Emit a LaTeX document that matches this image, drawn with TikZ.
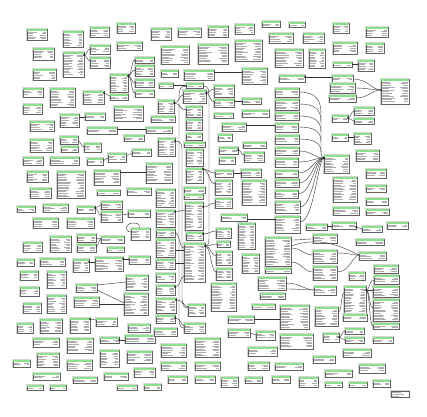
\documentclass[tikz,border=0pt]{standalone}
\definecolor{hdr}{RGB}{140,224,140}
\tikzset{
 tbl/.style={draw=black!62,line width=0.6pt,fill=white,inner sep=0pt,outer sep=0pt,rectangle},
 tshadow/.style={fill=black!16},
 thdr/.style={fill=hdr},
 trow/.style={draw=black!32,line width=0.5pt},
 conn/.style={draw=black!80,line width=0.4pt},
 dotc/.style={fill=black},
}
\newcommand\T[5]{%
 \fill[tshadow] (#2-0.7,#3-0.7) rectangle (#4+1.0,#5+1.0);
 \node[tbl,minimum width={(#4-#2)*1pt},minimum height={(#5-#3)*1pt}] (#1) at ({(#2+#4)/2},{(#3+#5)/2}) {};
 \fill[thdr] (#2+0.35,#3+0.35) rectangle (#4-0.35,#3+1.8);
 \pgfmathtruncatemacro\nr{max(0,(#5-#3-4.2)/1.6)}%
 \foreach \i in {0,...,\nr}{%
   \pgfmathsetmacro\yy{#3+3.1+1.6*\i}%
   \pgfmathsetmacro\la{(#4-#2)*(0.22+0.25*rnd)}%
   \pgfmathsetmacro\lb{(#4-#2)*(0.12+0.18*rnd)}%
   \draw[trow] (#2+1,\yy) -- ++(\la,0);
   \draw[trow] (#4-1,\yy) -- ++(-\lb,0);
 }%
}
\begin{document}
\begin{tikzpicture}[x=1pt,y=-1pt]
\pgfmathsetseed{7}
\fill[white] (0,0) rectangle (427,416);
\useasboundingbox (0,0) rectangle (427,416);
% ---- left region
\T{t1}{27}{29}{47}{40}
\T{t2}{63}{31}{83}{47}
\T{t3}{90}{27}{109}{37}
\T{t4}{117}{23}{135}{33}
\T{t5}{33}{48}{54}{60}
\T{t6}{63}{52}{84}{77}
\T{t7}{90}{45}{110}{54}
\T{t8}{117}{42}{142}{50}
\T{t9}{90}{57}{110}{68}
\T{t10}{33}{69}{56}{80}
\T{t11}{110}{74}{128}{92}
\T{t12}{135}{57}{154}{63}
\T{t13}{135}{65}{154}{76}
\T{t14}{135}{79}{154}{87}
\T{t15}{135}{90}{154}{97}
\T{t16}{23}{88}{43}{97}
\T{t17}{50}{88}{75}{107}
\T{t18}{83}{91}{104}{104}
\T{t19}{110}{94}{128}{100}
\T{t20}{23}{104}{42}{114}
\T{t21}{114}{106}{143}{121}
\T{t22}{60}{114}{79}{127}
\T{t23}{85}{113}{105}{120}
\T{t24}{30}{121}{54}{131}
\T{t25}{87}{127}{117}{134}
\T{t26}{30}{139}{53}{152}
\T{t27}{60}{136}{78}{144}
\T{t28}{61}{146}{78}{152}
\T{t29}{84}{143}{101}{152}
\T{t30}{124}{135}{144}{141}
\T{t31}{108}{153}{126}{162}
\T{t32}{132}{149}{151}{156}
\T{t33}{23}{157}{43}{165}
\T{t34}{50}{157}{79}{165}
\T{t35}{87}{158}{103}{165}
\T{t36}{27}{171}{48}{182}
\T{t37}{57}{171}{85}{198}
\T{t38}{94}{170}{120}{185}
\T{t39}{30}{188}{51}{198}
\T{t40}{97}{190}{120}{195}
\T{t41}{127}{188}{151}{195}
\T{t42}{17}{206}{35}{212}
\T{t43}{43}{204}{68}{212}
\T{t44}{77}{206}{95}{213}
\T{t45}{101}{201}{122}{209}
\T{t46}{101}{211}{122}{222}
\T{t47}{128}{210}{150}{217}
\T{t48}{33}{218}{58}{228}
\T{t49}{67}{218}{94}{228}
\T{t50}{131}{228}{150}{240}
\T{t51}{23}{242}{42}{252}
\T{t52}{50}{236}{71}{252}
\T{t53}{77}{234}{96}{242}
\T{t54}{77}{244}{96}{252}
\T{t55}{101}{236}{124}{243}
\T{t56}{107}{247}{124}{252}
\T{t57}{17}{259}{34}{266}
\T{t58}{40}{258}{65}{266}
\T{t59}{73}{259}{89}{272}
\T{t60}{95}{257}{123}{271}
\T{t61}{129}{256}{150}{264}
\T{t62}{20}{271}{38}{280}
\T{t63}{47}{271}{66}{288}
\T{t64}{126}{275}{148}{290}
\T{t65}{76}{284}{97}{292}
\T{t66}{20}{287}{39}{296}
\T{t67}{74}{297}{99}{307}
\T{t68}{124}{293}{148}{315}
\T{t69}{23}{303}{41}{313}
\T{t70}{47}{295}{66}{313}
\T{t71}{17}{323}{33}{333}
\T{t72}{40}{319}{62}{333}
\T{t73}{70}{318}{90}{333}
\T{t74}{96}{318}{117}{326}
\T{t75}{128}{324}{150}{332}
\T{t76}{33}{338}{59}{347}
\T{t77}{67}{338}{93}{353}
\T{t78}{100}{337}{119}{343}
\T{t79}{125}{335}{155}{343}
\T{t80}{37}{353}{59}{367}
\T{t81}{13}{360}{30}{367}
\T{t82}{67}{360}{92}{370}
\T{t83}{100}{350}{119}{367}
\T{t84}{127}{351}{152}{363}
\T{t85}{134}{368}{155}{377}
\T{t86}{33}{373}{60}{380}
\T{t87}{73}{377}{97}{383}
\T{t88}{104}{373}{128}{380}
\T{t89}{27}{385}{43}{390}
\T{t90}{50}{385}{66}{390}
\T{t91}{117}{385}{137}{390}
% ---- middle region
\T{t92}{151}{28}{171}{40}
\T{t93}{178}{28}{201}{37}
\T{t94}{208}{26}{228}{37}
\T{t95}{235}{24}{254}{34}
\T{t96}{262}{21}{280}{27}
\T{t97}{269}{33}{293}{43}
\T{t98}{161}{46}{189}{64}
\T{t99}{198}{44}{228}{64}
\T{t100}{235}{40}{262}{61}
\T{t101}{275}{49}{303}{67}
\T{t102}{161}{70}{178}{77}
\T{t103}{184}{70}{214}{80}
\T{t104}{242}{68}{267}{84}
\T{t105}{279}{75}{305}{82}
\T{t106}{159}{83}{173}{88}
\T{t107}{186}{83}{203}{88}
\T{t108}{183}{90}{206}{103}
\T{t109}{214}{85}{234}{97}
\T{t110}{214}{99}{234}{107}
\T{t111}{242}{98}{261}{104}
\T{t112}{275}{88}{299}{97}
\T{t113}{275}{99}{299}{110}
\T{t114}{275}{112}{299}{120}
\T{t115}{158}{100}{174}{113}
\T{t116}{186}{106}{202}{117}
\T{t117}{151}{116}{175}{122}
\T{t118}{214}{113}{233}{118}
\T{t119}{242}{110}{269}{117}
\T{t120}{186}{119}{202}{130}
\T{t121}{146}{127}{172}{133}
\T{t122}{222}{123}{246}{131}
\T{t123}{275}{123}{298}{132}
\T{t124}{186}{133}{202}{140}
\T{t125}{158}{138}{175}{156}
\T{t126}{275}{135}{299}{144}
\T{t127}{275}{147}{299}{155}
\T{t128}{184}{142}{205}{147}
\T{t129}{218}{134}{232}{141}
\T{t130}{243}{142}{266}{148}
\T{t131}{219}{147}{238}{154}
\T{t132}{244}{152}{264}{162}
\T{t133}{146}{163}{172}{183}
\T{t134}{186}{149}{203}{166}
\T{t135}{219}{157}{235}{164}
\T{t136}{275}{158}{298}{167}
\T{t137}{186}{168}{203}{183}
\T{t138}{215}{170}{233}{177}
\T{t139}{241}{169}{261}{177}
\T{t140}{275}{170}{298}{177}
\T{t141}{215}{180}{232}{195}
\T{t142}{242}{180}{266}{205}
\T{t143}{275}{179}{299}{187}
\T{t144}{156}{189}{175}{207}
\T{t145}{184}{187}{205}{193}
\T{t146}{184}{194}{203}{199}
\T{t147}{185}{202}{203}{230}
\T{t148}{215}{198}{232}{208}
\T{t149}{275}{190}{298}{198}
\T{t150}{275}{201}{300}{213}
\T{t151}{275}{216}{300}{233}
\T{t152}{156}{210}{175}{227}
\T{t153}{221}{214}{247}{221}
\T{t154}{238}{223}{255}{249}
\T{t155}{156}{229}{175}{237}
\T{t156}{186}{232}{203}{240}
\T{t157}{216}{228}{231}{238}
\T{t158}{217}{241}{230}{247}
\T{t159}{156}{239}{175}{257}
\T{t160}{184}{243}{205}{282}
\T{t161}{216}{251}{232}{265}
\T{t162}{242}{254}{259}{273}
\T{t163}{265}{237}{291}{266}
\T{t164}{265}{268}{291}{273}
\T{t165}{156}{259}{175}{269}
\T{t166}{156}{273}{175}{282}
\T{t167}{216}{268}{232}{280}
\T{t168}{258}{277}{286}{290}
\T{t169}{156}{285}{175}{295}
\T{t170}{211}{283}{236}{311}
\T{t171}{156}{298}{176}{313}
\T{t172}{188}{304}{205}{316}
\T{t173}{260}{293}{285}{299}
\T{t174}{252}{304}{275}{309}
\T{t175}{280}{305}{309}{329}
\T{t176}{156}{315}{175}{323}
\T{t177}{154}{328}{177}{336}
\T{t178}{184}{323}{205}{333}
\T{t179}{228}{316}{254}{323}
\T{t180}{228}{329}{250}{337}
\T{t181}{256}{331}{275}{340}
\T{t182}{280}{334}{313}{349}
\T{t183}{161}{344}{186}{357}
\T{t184}{195}{338}{220}{357}
\T{t185}{248}{347}{277}{356}
\T{t186}{161}{362}{186}{370}
\T{t187}{195}{362}{220}{370}
\T{t188}{248}{362}{269}{370}
\T{t189}{275}{363}{303}{370}
\T{t190}{168}{376}{187}{383}
\T{t191}{195}{376}{215}{383}
\T{t192}{221}{377}{238}{387}
\T{t193}{245}{377}{262}{383}
\T{t194}{272}{376}{290}{383}
\T{t195}{144}{384}{161}{390}
% ---- right region
\T{t197}{289}{22}{305}{27}
\T{t198}{303}{33}{324}{43}
\T{t199}{333}{23}{349}{33}
\T{t200}{366}{27}{388}{37}
\T{t201}{309}{49}{325}{68}
\T{t202}{333}{42}{357}{54}
\T{t203}{366}{43}{384}{53}
\T{t204}{333}{62}{352}{67}
\T{t205}{358}{60}{374}{71}
\T{t206}{332}{75}{353}{82}
\T{t207}{381}{79}{409}{104}
\T{t208}{330}{83}{355}{93}
\T{t209}{329}{95}{356}{102}
\T{t210}{332}{115}{348}{122}
\T{t211}{354}{107}{374}{115}
\T{t212}{354}{118}{374}{124}
\T{t213}{332}{134}{348}{141}
\T{t214}{354}{133}{371}{144}
\T{t216}{324}{155}{349}{173}
\T{t217}{356}{150}{379}{161}
\T{t218}{333}{177}{357}{202}
\T{t219}{366}{169}{386}{178}
\T{t220}{366}{185}{386}{192}
\T{t221}{366}{198}{388}{205}
\T{t222}{333}{207}{359}{215}
\T{t223}{366}{209}{389}{215}
\T{t224}{332}{222}{356}{229}
\T{t225}{306}{224}{327}{230}
\T{t226}{362}{226}{382}{232}
\T{t227}{387}{222}{408}{229}
\T{t228}{313}{234}{337}{243}
\T{t229}{356}{239}{384}{245}
\T{t230}{313}{250}{337}{263}
\T{t231}{359}{252}{386}{260}
\T{t232}{313}{266}{337}{280}
\T{t233}{349}{272}{365}{280}
\T{t234}{374}{265}{398}{273}
\T{t235}{374}{275}{399}{284}
\T{t236}{314}{286}{336}{295}
\T{t237}{344}{286}{366}{313}
\T{t238}{343}{314}{367}{321}
\T{t239}{373}{286}{399}{297}
\T{t240}{373}{299}{399}{321}
\T{t241}{373}{323}{399}{329}
\T{t242}{315}{307}{338}{326}
\T{t243}{323}{333}{339}{342}
\T{t244}{345}{328}{364}{334}
\T{t245}{345}{337}{364}{343}
\T{t246}{373}{337}{393}{343}
\T{t247}{343}{349}{371}{357}
\T{t248}{313}{356}{335}{363}
\T{t249}{359}{364}{385}{373}
\T{t250}{325}{370}{352}{377}
\T{t251}{299}{377}{318}{387}
\T{t252}{325}{382}{342}{387}
\T{t253}{349}{382}{367}{387}
\T{t254}{373}{380}{390}{387}
% legend
\fill[tshadow] (390.3,390.3) rectangle (410,398);
\node[tbl,minimum width=18pt,minimum height=6pt] (t255) at (400,394) {};
\draw[trow] (392,392.5) -- ++(9,0); \draw[trow] (392,394.2) -- ++(12,0); \draw[trow] (392,395.9) -- ++(7,0);
% ---- connectors
\draw[conn] (t6.east |- 0,55) .. controls (87,55) and (87,49) .. (t7.west |- 0,49);
\draw[conn] (t6.east |- 0,55) .. controls (87,55) and (87,61) .. (t9.west |- 0,61);
\fill[dotc] (t6.east |- 0,55) circle (0.9);
\draw[conn] (t11.east |- 0,76) .. controls (132,76) and (131,60) .. (t12.west |- 0,60);
\draw[conn] (t11.east |- 0,76) .. controls (132,76) and (131,70) .. (t13.west |- 0,70);
\draw[conn] (t11.east |- 0,76) .. controls (132,76) and (131,83) .. (t14.west |- 0,83);
\draw[conn] (t11.east |- 0,76) .. controls (132,76) and (131,93) .. (t15.west |- 0,93);
\fill[dotc] (t11.east |- 0,76) circle (0.9);
\draw[conn] (t18.east |- 0,93) .. controls (107,93) and (107,96) .. (t19.west |- 0,96);
\fill[dotc] (t18.east |- 0,93) circle (0.9);
\draw[conn] (t22.east |- 0,117) -- (t23.west |- 0,117);
\draw[conn] (t25.east |- 0,129) -- (t121.west |- 0,129);
\draw[conn] (t103.east |- 0,72) -- (t104.west |- 0,72);
\draw[conn] (t108.east |- 0,93) .. controls (210,93) and (210,89) .. (t109.west |- 0,89);
\draw[conn] (t108.east |- 0,93) .. controls (210,93) and (210,102) .. (t110.west |- 0,102);
\fill[dotc] (t108.east |- 0,93) circle (0.9);
\draw[conn] (t110.east |- 0,101) -- (t111.west |- 0,101);
\draw[conn] (t122.east |- 0,125) -- (t123.west |- 0,125);
\draw[conn] (t204.east |- 0,64) -- (t205.west |- 0,64);
\draw[conn] (t206.west |- 0,77) -- (t105.east |- 0,77);
\fill[dotc] (t105.east |- 0,77) circle (0.8);
\draw[conn] (t206.east |- 0,79) .. controls (368,79) and (372,90) .. (t207.west |- 0,90);
\draw[conn] (t208.east |- 0,88) .. controls (368,88) and (372,90) .. (t207.west |- 0,90);
\draw[conn] (t209.east |- 0,98) .. controls (368,98) and (372,90) .. (t207.west |- 0,90);
\fill[dotc] (t207.west |- 0,90) circle (0.8);
\draw[conn] (t210.east |- 0,118) .. controls (351,118) and (351,111) .. (t211.west |- 0,111);
\draw[conn] (t210.east |- 0,118) .. controls (351,118) and (351,121) .. (t212.west |- 0,121);
\fill[dotc] (t210.east |- 0,118) circle (0.9);
\draw[conn] (t213.east |- 0,137) -- (t214.west |- 0,137);
% fan into t216
\draw[conn] (t112.east |- 0,92) .. controls (316,92) and (321,100) .. (321,114) -- (321,150) .. controls (321,156) and (322,158) .. (t216.west |- 0,158);
\draw[conn] (t113.east |- 0,104) .. controls (316,104) and (321,110) .. (321,122);
\draw[conn] (t114.east |- 0,116) .. controls (316,116) and (321,122) .. (321,132);
\draw[conn] (t123.east |- 0,127) .. controls (316,127) and (321,132) .. (321,142);
\draw[conn] (t126.east |- 0,139) .. controls (316,139) and (321,144) .. (321,152);
\draw[conn] (t127.east |- 0,151) .. controls (312,151) and (314,158) .. (t216.west |- 0,158);
\draw[conn] (t136.east |- 0,162) .. controls (312,162) and (314,158) .. (t216.west |- 0,158);
\draw[conn] (t140.east |- 0,173) .. controls (312,173) and (314,158) .. (t216.west |- 0,158);
\draw[conn] (t143.east |- 0,183) .. controls (312,183) and (314,158) .. (t216.west |- 0,158);
\draw[conn] (t149.east |- 0,194) .. controls (312,194) and (315,158) .. (t216.west |- 0,158);
\draw[conn] (t150.east |- 0,207) .. controls (313,207) and (316,158) .. (t216.west |- 0,158);
\draw[conn] (t151.east |- 0,222) .. controls (314,222) and (318,158) .. (t216.west |- 0,158);
\fill[dotc] (t216.west |- 0,158) circle (1.1);
% left area
\draw[conn] (t38.east |- 0,172) -- (t133.west |- 0,172);
\draw[conn] (t27.east |- 0,141) .. controls (81,141) and (81,147) .. (t29.west |- 0,147);
\draw[conn] (t35.east |- 0,161) .. controls (105,161) and (105,158) .. (t31.west |- 0,158);
\draw[conn] (t31.east |- 0,156) .. controls (129,156) and (129,153) .. (t32.west |- 0,153);
\draw[conn] (t44.east |- 0,208) .. controls (98,208) and (98,205) .. (t45.west |- 0,205);
\draw[conn] (t44.east |- 0,208) .. controls (98,208) and (98,215) .. (t46.west |- 0,215);
\fill[dotc] (t44.east |- 0,208) circle (0.9);
\draw[conn] (t46.east |- 0,215) -- (t47.west |- 0,214);
\draw[conn] (t53.east |- 0,238) .. controls (99,238) and (98,239) .. (t55.west |- 0,239);
\draw[conn] (t54.east |- 0,247) .. controls (99,247) and (98,239) .. (t55.west |- 0,239);
\draw[conn] (t59.east |- 0,262) -- (t60.west |- 0,262);
\fill[dotc] (t59.east |- 0,262) circle (0.9);
\draw[conn] (t60.east |- 0,259) -- (t61.west |- 0,259);
\fill[dotc] (t60.east |- 0,259) circle (0.9);
\draw[conn] (t65.east |- 0,285) -- (t64.west |- 0,282);
\draw[conn] (t65.east |- 0,290) -- (t68.west |- 0,303);
\draw[conn] (t67.east |- 0,304) -- (t68.west |- 0,304);
\draw[conn] (t73.east |- 0,319) -- (t74.west |- 0,320);
\fill[dotc] (t73.east |- 0,319) circle (0.9);
\draw[conn] (t78.east |- 0,340) -- (t79.west |- 0,340);
\fill[dotc] (t78.east |- 0,340) circle (0.9);
\draw[conn] (t50.west |- 0,232) .. controls (124,232) and (125,223) .. (133,223) .. controls (139,223) and (140,225) .. (t50.north -| 139,0);
% centre trunks
\draw[conn] (t106.east |- 0,85) -- (t107.west |- 0,85);
\draw[conn] (t107.west |- 0,86) .. controls (180,86) and (179,90) .. (179,98) -- (179,318) .. controls (179,326) and (181,328) .. (t178.west |- 0,328);
\draw[conn] (t107.east |- 0,86) .. controls (209,86) and (209,90) .. (209,98) -- (209,238) .. controls (209,244) and (208,246) .. (t160.east |- 0,246);
\draw[conn] (t125.east |- 0,141) .. controls (181,141) and (182,145) .. (182,150) -- (182,298) .. controls (182,305) and (184,308) .. (t172.west |- 0,308);
\fill[dotc] (t125.east |- 0,141) circle (0.9);
\draw[conn] (t115.east |- 0,103) .. controls (179,103) and (179,95) .. (t108.west |- 0,95);
\draw[conn] (t115.east |- 0,103) .. controls (180,103) and (180,110) .. (t116.west |- 0,110);
\fill[dotc] (t115.east |- 0,103) circle (0.9);
\draw[conn] (t137.east |- 0,169) .. controls (209,169) and (209,173) .. (t138.west |- 0,173);
\draw[conn] (t137.east |- 0,169) .. controls (209,169) and (209,184) .. (t141.west |- 0,184);
\fill[dotc] (t137.east |- 0,169) circle (0.9);
\draw[conn] (t138.east |- 0,173) -- (t139.west |- 0,173);
\draw[conn] (t131.east |- 0,150) .. controls (241,150) and (241,155) .. (t132.west |- 0,155);
\fill[dotc] (t131.east |- 0,150) circle (0.9);
\draw[conn] (t147.east |- 0,207) .. controls (209,207) and (209,203) .. (t148.west |- 0,203);
\fill[dotc] (t147.east |- 0,207) circle (0.9);
\draw[conn] (t152.east |- 0,212) .. controls (180,212) and (180,210) .. (t147.west |- 0,210);
\fill[dotc] (t152.east |- 0,212) circle (0.9);
\draw[conn] (t153.east |- 0,219) -- (t151.west |- 0,219);
\draw[conn] (t156.east |- 0,234) .. controls (210,234) and (210,231) .. (t157.west |- 0,231);
\fill[dotc] (t156.east |- 0,234) circle (0.9);
\draw[conn] (t160.east |- 0,246) .. controls (211,246) and (211,244) .. (t158.west |- 0,244);
\draw[conn] (t160.east |- 0,246) .. controls (211,246) and (211,256) .. (t161.west |- 0,256);
\draw[conn] (t160.east |- 0,246) .. controls (211,246) and (211,272) .. (t167.west |- 0,272);
\fill[dotc] (t160.east |- 0,246) circle (0.9);
\draw[conn] (t155.east |- 0,233) .. controls (180,233) and (179,248) .. (t160.west |- 0,248);
\draw[conn] (t159.east |- 0,250) -- (t160.west |- 0,250);
\draw[conn] (t165.east |- 0,263) -- (t160.west |- 0,263);
\draw[conn] (t169.east |- 0,287) .. controls (181,287) and (180,276) .. (t160.west |- 0,276);
\fill[dotc] (t169.east |- 0,287) circle (0.9);
\draw[conn] (t171.east |- 0,300) .. controls (184,300) and (184,307) .. (t172.west |- 0,307);
\fill[dotc] (t171.east |- 0,300) circle (0.9);
\draw[conn] (t176.east |- 0,318) .. controls (181,318) and (181,326) .. (t178.west |- 0,326);
\fill[dotc] (t176.east |- 0,318) circle (0.9);
\draw[conn] (t179.east |- 0,319) -- (t175.west |- 0,319);
\draw[conn] (t180.east |- 0,333) -- (t181.west |- 0,335);
% right lower
\draw[conn] (t168.east |- 0,283) .. controls (300,283) and (305,290) .. (t236.west |- 0,290);
\draw[conn] (t168.east |- 0,289) .. controls (300,289) and (305,290) .. (t236.west |- 0,290);
\draw[conn] (t237.east |- 0,290) .. controls (370,290) and (369,280) .. (t235.west |- 0,280);
\draw[conn] (t237.east |- 0,290) -- (t239.west |- 0,290);
\draw[conn] (t237.east |- 0,290) .. controls (370,290) and (369,308) .. (t240.west |- 0,308);
\draw[conn] (t237.east |- 0,290) .. controls (370,290) and (369,326) .. (t241.west |- 0,326);
\fill[dotc] (t237.east |- 0,290) circle (0.9);
\draw[conn] (t242.east |- 0,312) .. controls (342,312) and (341,293) .. (t237.west |- 0,293);
\draw[conn] (t243.east |- 0,337) .. controls (342,337) and (342,331) .. (t244.west |- 0,331);
\draw[conn] (t243.east |- 0,337) .. controls (342,337) and (342,340) .. (t245.west |- 0,340);
\fill[dotc] (t243.east |- 0,337) circle (0.9);
\draw[conn] (t163.east |- 0,240) .. controls (302,240) and (303,239) .. (t228.west |- 0,239);
\draw[conn] (t163.east |- 0,248) .. controls (302,248) and (303,255) .. (t230.west |- 0,255);
\draw[conn] (t163.east |- 0,262) .. controls (302,262) and (303,272) .. (t232.west |- 0,272);
\draw[conn] (t163.east |- 0,246) .. controls (320,236) and (340,246) .. (t231.west |- 0,255);
\draw[conn] (t230.east |- 0,253) .. controls (350,253) and (350,255) .. (t231.west |- 0,255);
\draw[conn] (t232.east |- 0,272) .. controls (350,272) and (352,256) .. (t231.west |- 0,255);
\draw[conn] (t225.east |- 0,226) -- (t224.west |- 0,226);
\draw[conn] (t224.east |- 0,227) .. controls (359,227) and (359,229) .. (t226.west |- 0,229);
\fill[dotc] (t224.east |- 0,227) circle (0.9);
\end{tikzpicture}
\end{document}
